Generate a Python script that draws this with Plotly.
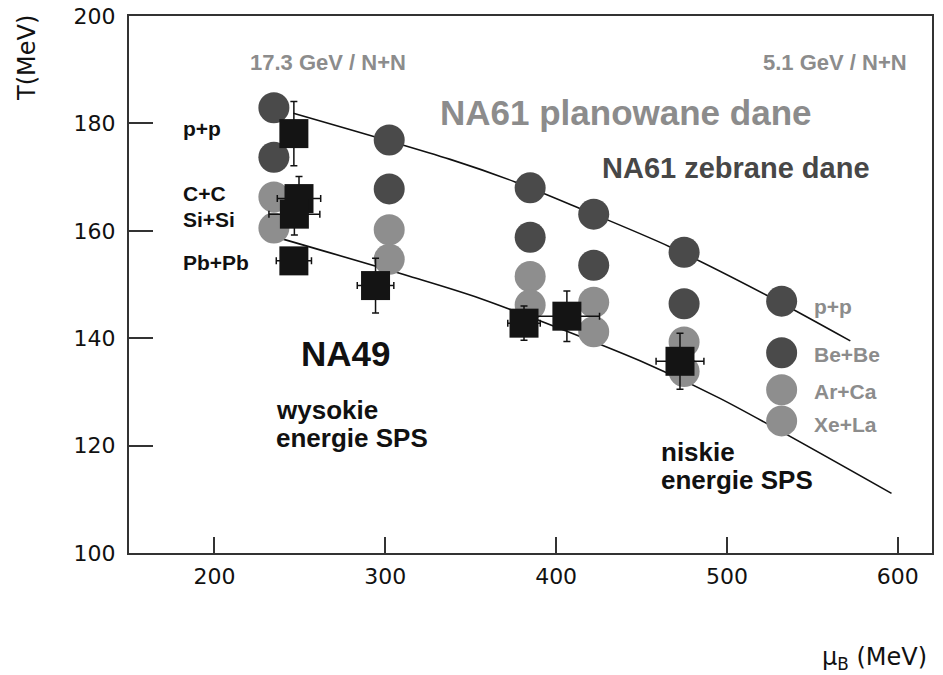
import plotly.graph_objects as go

# ---------------- data ----------------
# NA61 planned data (circles): columns of mu_B, per system T values
circle_mu = [234.8, 302.3, 384.8, 422.0, 474.9, 532.0]
T_pp = [182.9, 176.9, 168.0, 163.1, 156.0, 146.9]
T_BeBe = [173.7, 167.8, 158.8, 153.6, 146.4, 137.3]
T_ArCa = [166.3, 160.2, 151.5, 146.7, 139.3, 130.4]
T_XeLa = [160.5, 154.7, 146.2, 141.2, 133.8, 124.6]

# NA49 measured points (squares) with errors
na49_mu = [246.5, 249.5, 246.8, 246.5, 294.3, 381.2, 406.3, 472.5]
na49_T = [178.1, 166.0, 163.1, 154.4, 149.8, 142.8, 144.1, 135.7]
na49_dmu = [0.0, 12.7, 14.9, 10.3, 10.7, 9.5, 19.1, 14.0]
na49_dT = [6.0, 4.1, 3.9, 2.0, 5.1, 3.2, 4.7, 5.2]

# freeze-out curves
upper_mu = [246.2, 338.0, 376.0, 412.9, 466.7, 523.2, 572.2]
upper_T = [181.9, 173.3, 169.1, 164.3, 157.0, 148.0, 139.5]
lower_mu = [239.6, 314.6, 355.6, 449.1, 495.9, 596.3]
lower_T = [158.5, 151.5, 147.4, 135.8, 128.8, 111.1]

x_ticks = [200, 300, 400, 500, 600]
y_ticks = [100, 120, 140, 160, 180, 200]

DARK = "#4a4a4a"
LIGHT = "#8e8e8e"
TXTGRAY = "#8c8c8c"

fig = go.Figure()

for mu, T in [(upper_mu, upper_T), (lower_mu, lower_T)]:
    fig.add_trace(go.Scatter(x=mu, y=T, mode="lines",
                             line=dict(color="#111111", width=1.6, shape="spline", smoothing=0.8),
                             hoverinfo="skip", showlegend=False))

for T, col in [(T_pp, DARK), (T_BeBe, DARK), (T_ArCa, LIGHT), (T_XeLa, LIGHT)]:
    fig.add_trace(go.Scatter(x=circle_mu, y=T, mode="markers",
                             marker=dict(symbol="circle", size=31, color=col, line=dict(width=0)),
                             showlegend=False))

fig.add_trace(go.Scatter(x=na49_mu, y=na49_T, mode="markers",
                         marker=dict(symbol="square", size=29, color="#141414", line=dict(width=0)),
                         error_x=dict(type="data", array=na49_dmu, color="#111111", thickness=1.5, width=3.5),
                         error_y=dict(type="data", array=na49_dT, color="#111111", thickness=1.5, width=3.5),
                         showlegend=False))

# ---------------- layout ----------------
W, H = 943, 675
L, R, T0, B = 129, 932, 16, 553


def px(x):
    return (x - L) / (R - L)


def py(y):
    return (B - y) / (B - T0)


FONT = "Liberation Sans, Arial, sans-serif"
annos = []


def txt(s, x, y, size, color="#111111", xanchor="left", bold=True):
    annos.append(dict(text=("<b>%s</b>" % s) if bold else s, x=px(x), y=py(y),
                      xref="paper", yref="paper", xanchor=xanchor, yanchor="middle",
                      showarrow=False, font=dict(family=FONT, size=size, color=color)))


txt("17.3 GeV / N+N", 328, 63, 22, TXTGRAY, "center")
txt("5.1 GeV / N+N", 909, 63, 22, TXTGRAY, "right")
txt("NA61 planowane dane", 438, 113, 35, TXTGRAY)
txt("NA61 zebrane dane", 600, 168, 29, "#474747")
for s, y in [("p+p", 128), ("C+C", 193), ("Si+Si", 219), ("Pb+Pb", 262)]:
    txt(s, 181, y, 21)
txt("NA49", 299, 353, 35)
txt("wysokie", 274, 410, 26)
txt("energie SPS", 274, 438, 26)
txt("niskie", 659, 452, 26)
txt("energie SPS", 659, 480, 26)
for s, y in [("p+p", 307), ("Be+Be", 354), ("Ar+Ca", 391), ("Xe+La", 424)]:
    txt(s, 812, y, 21, TXTGRAY)

# axis titles
annos.append(dict(text="T(MeV)", x=px(27), y=py(58), xref="paper", yref="paper",
                  textangle=-90, showarrow=False, xanchor="center", yanchor="middle",
                  font=dict(family="DejaVu Sans", size=24, color="#111111")))
annos.append(dict(text="μ<sub>B</sub> (MeV)", x=px(929), y=py(658), xref="paper", yref="paper",
                  showarrow=False, xanchor="right", yanchor="middle",
                  font=dict(family="DejaVu Sans", size=24, color="#111111")))

axis_common = dict(showline=True, linecolor="#333333", linewidth=2, mirror=True,
                   ticks="inside", tickcolor="#333333", tickwidth=1.5,
                   showgrid=False, zeroline=False, automargin=False,
                   tickfont=dict(family="DejaVu Sans", size=22, color="#111111"))

fig.update_layout(
    width=W, height=H,
    margin=dict(l=L, r=W - R, t=T0, b=H - B, pad=0),
    paper_bgcolor="white", plot_bgcolor="white",
    xaxis=dict(range=[150, 620], tickvals=x_ticks, ticklen=16, ticklabelstandoff=3, **axis_common),
    yaxis=dict(range=[100, 200], tickvals=y_ticks, ticklen=24, ticklabelstandoff=7, **axis_common),
    annotations=annos,
    showlegend=False,
)

fig.write_html("out.html", config={"displayModeBar": False},
               post_script="document.body.style.margin='0';document.body.style.overflow='hidden';")
